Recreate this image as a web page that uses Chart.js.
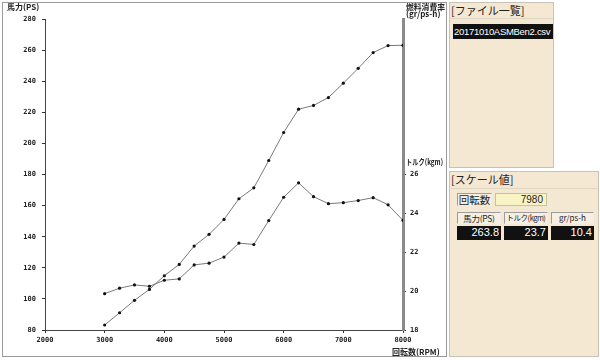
<!DOCTYPE html>
<html>
<head>
<meta charset="utf-8">
<script src="https://cdn.jsdelivr.net/npm/chart.js@4"></script>
<style>
    body { margin: 0; background: #ffffff; font-family: "Noto Sans CJK JP", sans-serif; }
    #wrap { position: relative; width: 600px; height: 360px; overflow: hidden; }
    #frame { position: absolute; left: 2px; top: 2px; width: 443px; height: 353px; border: 1px solid #9a9a9a; background: #ffffff; }
    #chartBox { position: absolute; left: 0; top: 0; width: 600px; height: 360px; }
    .panel { position: absolute; background: #f4e8d3; border: 1px solid #c9c2b6; box-sizing: border-box; }
    .head { font-size: 11px; line-height: 14px; color: #222; padding-left: 1px; border-bottom: 1px solid #e0d6c4; height: 15px; }
    #fileName { position: absolute; left: 3px; top: 21px; width: 99px; height: 15px; background: #111; color: #fff; font-size: 9.5px; letter-spacing: -0.3px; line-height: 15px; font-family: "Liberation Sans", Arial, sans-serif; padding-left: 1px; white-space: nowrap; overflow: hidden; }
    .box { position: absolute; box-sizing: border-box; font-size: 9px; line-height: 11px; color: #222; white-space: nowrap; overflow: hidden; }
    .lbl { background: #f6efe2; border: 1px solid #9c9c9c; border-right-color: #eee; border-bottom-color: #eee; text-align: center; }
    .val { background: #111; color: #fff; text-align: right; padding-right: 2px; font-family: "Liberation Sans", Arial, sans-serif; font-size: 11px; line-height: 13px; }
</style>
</head>
<body>
<div id="wrap">
    <div id="frame"></div>
    <div id="chartBox"><canvas id="dyno" width="600" height="360"></canvas></div>

    <div class="panel" style="left:449px; top:2px; width:105px; height:166px;">
        <div class="head">[ファイル一覧]</div>
        <div id="fileName">20171010ASMBen2.csv</div>
    </div>

    <div class="panel" style="left:449px; top:171px; width:150px; height:186px;">
        <div class="head" style="height:16px; line-height:15px;">[スケール値]</div>
    </div>
    <div class="box lbl" style="left:457px; top:193px; width:35px; height:13px; font-size:10.5px; line-height:11px;">回転数</div>
    <div class="box" style="left:495px; top:193px; width:52px; height:13px; background:#f8f4c6; border:1px solid #c9c2a0; text-align:right; padding-right:3px; font-family:'Liberation Sans',Arial,sans-serif; font-size:10px; line-height:11px;">7980</div>
    <div class="box lbl" style="left:457px; top:212px; width:44px; height:12px; font-size:8.5px; line-height:10px; letter-spacing:-0.3px;">馬力(PS)</div>
    <div class="box lbl" style="left:504px; top:212px; width:44px; height:12px; font-size:7.5px; line-height:10px; letter-spacing:-0.5px;">トルク(kgm)</div>
    <div class="box lbl" style="left:551px; top:212px; width:43px; height:12px; font-size:8px; line-height:10px;">gr/ps-h</div>
    <div class="box val" style="left:457px; top:226px; width:44px; height:14px;">263.8</div>
    <div class="box val" style="left:504px; top:226px; width:44px; height:14px;">23.7</div>
    <div class="box val" style="left:551px; top:226px; width:43px; height:14px;">10.4</div>
</div>

<script>
// dyno run (every 250 rpm)
const rpm = [3000, 3250, 3500, 3750, 4000, 4250, 4500, 4750, 5000, 5250, 5500,
             5750, 6000, 6250, 6500, 6750, 7000, 7250, 7500, 7750, 8000];
const horsepower = [83.2, 91.1, 99.1, 106.1, 114.9, 122.2, 134.0, 141.5, 151.1, 164.4, 171.4,
                    189.0, 207.0, 222.0, 224.4, 229.5, 238.7, 248.3, 258.4, 262.9, 263.1];
const torque = [19.87, 20.15, 20.32, 20.25, 20.56, 20.63, 21.35, 21.44, 21.75, 22.47, 22.40,
                23.63, 24.83, 25.57, 24.86, 24.50, 24.55, 24.66, 24.81, 24.44, 23.64];

const rpmRange = [2000, 8000];
const psRange = [80, 280];
const kgmRange = [18, 34];
const kgmLabelMax = 26;   // torque labels stop here, fuel axis sits above

function toXY(xs, ys) {
    return xs.map((x, i) => ({ x: x, y: ys[i] }));
}

const tickFont = { family: "DejaVu Sans Mono", size: 7, weight: "bold" };

// squeeze a caption into a given width (the printout uses a narrow bitmap font)
function fitText(ctx, text, x, y, maxWidth) {
    const w = ctx.measureText(text).width;
    const k = Math.min(1, maxWidth / w);
    ctx.save();
    ctx.translate(x, y);
    ctx.scale(k, 1);
    ctx.fillText(text, 0, 0);
    ctx.restore();
}

// axis captions drawn in the chart, same spots as the printout
const captions = {
    id: "captions",
    afterDraw(chart) {
        const ctx = chart.ctx;
        const area = chart.chartArea;
        ctx.save();
        ctx.fillStyle = "#222";
        ctx.textBaseline = "middle";
        ctx.textAlign = "left";
        ctx.font = "bold 8px 'Noto Sans CJK JP'";
        fitText(ctx, "馬力(PS)", 7, 7, 36);
        fitText(ctx, "燃料消費率", area.right + 3, 7, 39);
        fitText(ctx, "(gr/ps-h)", area.right + 3, 14, 39);
        fitText(ctx, "トルク(kgm)", area.right + 3, 162, 37);
        fitText(ctx, "回転数(RPM)", area.right - 11, 352, 48);
        ctx.restore();
    }
};

const chart = new Chart(document.getElementById("dyno").getContext("2d"), {
    type: "line",
    data: {
        datasets: [
        {
            label: "馬力(PS)",
            data: toXY(rpm, horsepower),
            yAxisID: "ps",
            borderColor: "#7a7a7a",
            borderWidth: 1,
            pointRadius: 1.6,
            pointBackgroundColor: "#111",
            pointBorderColor: "#111",
            pointBorderWidth: 0
        },
        {
            label: "トルク(kgm)",
            data: toXY(rpm, torque),
            yAxisID: "kgm",
            borderColor: "#7a7a7a",
            borderWidth: 1,
            pointRadius: 1.6,
            pointBackgroundColor: "#111",
            pointBorderColor: "#111",
            pointBorderWidth: 0
        }
    ]
    },
    options: {
        responsive: false,
        animation: false,
        layout: { padding: { top: 19, right: 157, bottom: 0, left: 0 } },
        plugins: { legend: { display: false }, tooltip: { enabled: false } },
        scales: {
            x: {
                type: "linear",
                min: rpmRange[0], max: rpmRange[1],
                ticks: { stepSize: 1000, font: tickFont, color: "#222", padding: 3, maxRotation: 0,
                         callback: v => String(v) },
                grid: { drawOnChartArea: false, tickLength: 3, color: "#333" },
                border: { color: "#444", width: 1 },
                afterFit: s => { s.height = 30; }
            },
            ps: {
                position: "left",
                min: psRange[0], max: psRange[1],
                ticks: { stepSize: 20, font: tickFont, color: "#222", padding: 6 },
                grid: { drawOnChartArea: false, tickLength: 3, color: "#333" },
                border: { color: "#444", width: 1 },
                afterFit: s => { s.width = 45; }
            },
            kgm: {
                position: "right",
                min: kgmRange[0], max: kgmRange[1],
                ticks: { stepSize: 2, font: tickFont, color: "#222", padding: 4 },
                grid: { drawOnChartArea: false, tickLength: 3, color: "#333" },
                border: { color: "#8a8a8a", width: 3 },
                afterBuildTicks: s => { s.ticks = s.ticks.filter(t => t.value <= kgmLabelMax); },
                afterFit: s => { s.width = 40; }
            }
        }
    },
    plugins: [captions]
});
</script>
</body>
</html>
